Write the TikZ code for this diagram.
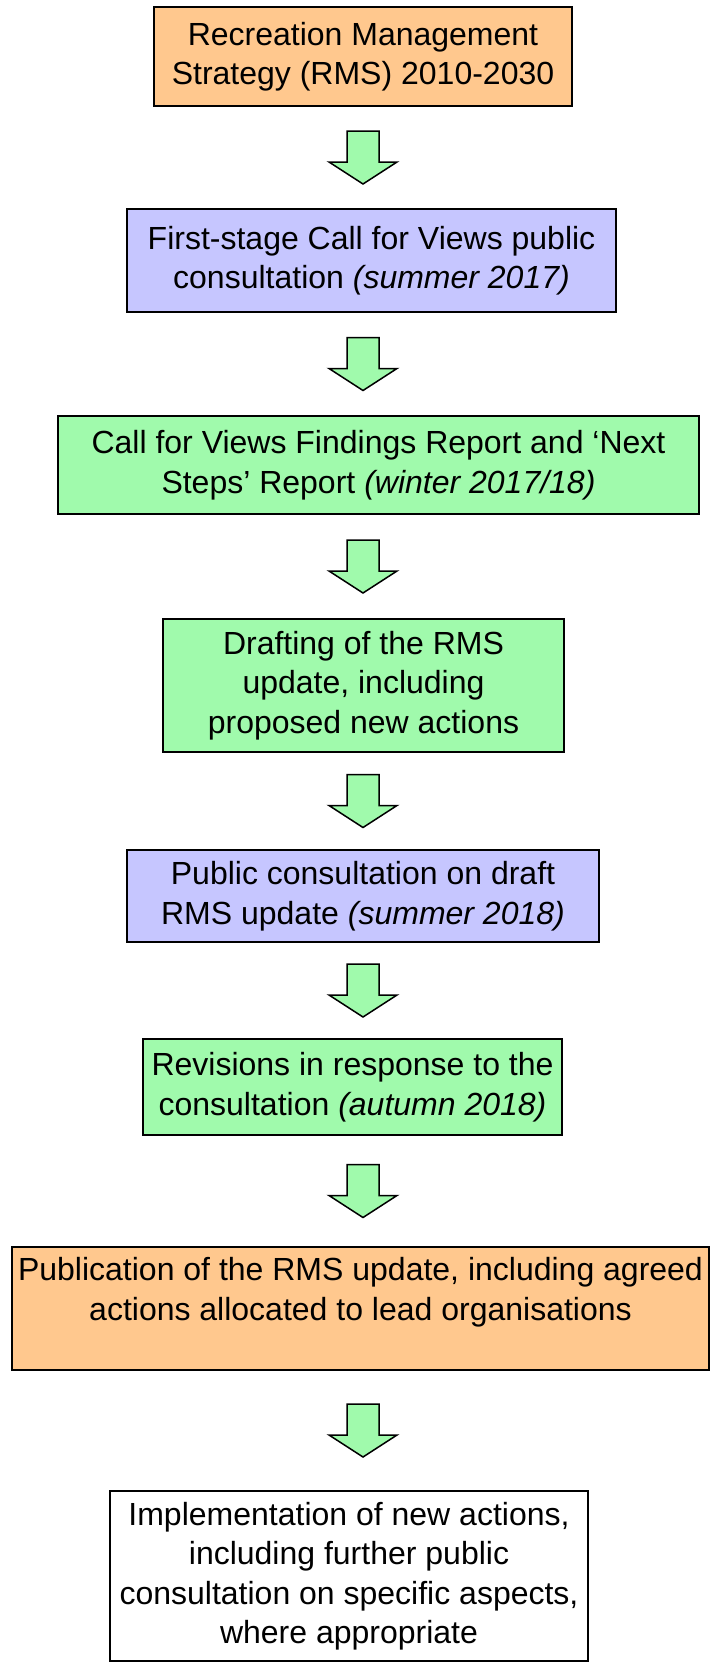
\documentclass[tikz,border=0pt]{standalone}
\usepackage{fontspec}
\setmainfont{Liberation Sans}
\usetikzlibrary{calc}
\definecolor{boxorange}{RGB}{255,200,142}
\definecolor{boxblue}{RGB}{198,198,255}
\definecolor{boxgreen}{RGB}{160,250,172}
\definecolor{arrgreen}{RGB}{160,250,172}
\tikzset{
  stagebox/.style={draw=black, line width=1.5pt, align=center, inner sep=0pt,
    font=\fontsize{32}{39.5}\selectfont},
  blockarrow/.style={draw=black, line width=1.5pt, fill=arrgreen, line join=miter}
}
\newcommand{\boxat}[7]{% name, x1, y1, x2, y2, fill, text
  \node[stagebox, fill=#6, minimum width={(#4-#2)*1pt}, minimum height={(#5-#3)*1pt}]
    (#1) at ({(#2+#4)/2},{(#3+#5)/2}) {#7};}
\newcommand{\flowarrow}[3]{% from, to, name
  \path (#1.south) -- (#2.north) coordinate[midway] (#3m);
  \coordinate (#3) at (#3m -| ax);
  \draw[blockarrow] (#3) ++(-16,-26.5) -- ++(32,0) -- ++(0,31) -- ++(18,0)
    -- ++(-34,22) -- ++(-34,-22) -- ++(18,0) -- cycle;}
\begin{document}
\begin{tikzpicture}[x=1pt,y=-1pt]
\useasboundingbox[fill=white] (0,0) rectangle (710,1662);
\coordinate (ax) at (363,0);
\boxat{b1}{154}{7}{572}{106}{boxorange}{Recreation Management\\Strategy (RMS) 2010-2030}
\boxat{b2}{127}{209}{616}{312}{boxblue}{First-stage Call for Views public\\consultation \textit{(summer 2017)}}
\boxat{b3}{58}{416}{699}{514}{boxgreen}{Call for Views Findings Report and ‘Next\\Steps’ Report \textit{(winter 2017/18)}}
\boxat{b4}{163}{619}{564}{752}{boxgreen}{Drafting of the RMS\\update, including\\proposed new actions}
\boxat{b5}{127}{850}{599}{942}{boxblue}{Public consultation on draft\\RMS update \textit{(summer 2018)}}
\boxat{b6}{143}{1039}{562}{1135}{boxgreen}{Revisions in response to the\\consultation \textit{(autumn 2018)}}
\boxat{b7}{12}{1247}{709}{1370}{boxorange}{Publication of the RMS update, including agreed\\actions allocated to lead organisations\\\mbox{}}
\boxat{b8}{110}{1491}{588}{1661}{white}{Implementation of new actions,\\including further public\\consultation on specific aspects,\\where appropriate}
\flowarrow{b1}{b2}{a1}
\flowarrow{b2}{b3}{a2}
\flowarrow{b3}{b4}{a3}
\flowarrow{b4}{b5}{a4}
\flowarrow{b5}{b6}{a5}
\flowarrow{b6}{b7}{a6}
\flowarrow{b7}{b8}{a7}
\end{tikzpicture}
\end{document}
